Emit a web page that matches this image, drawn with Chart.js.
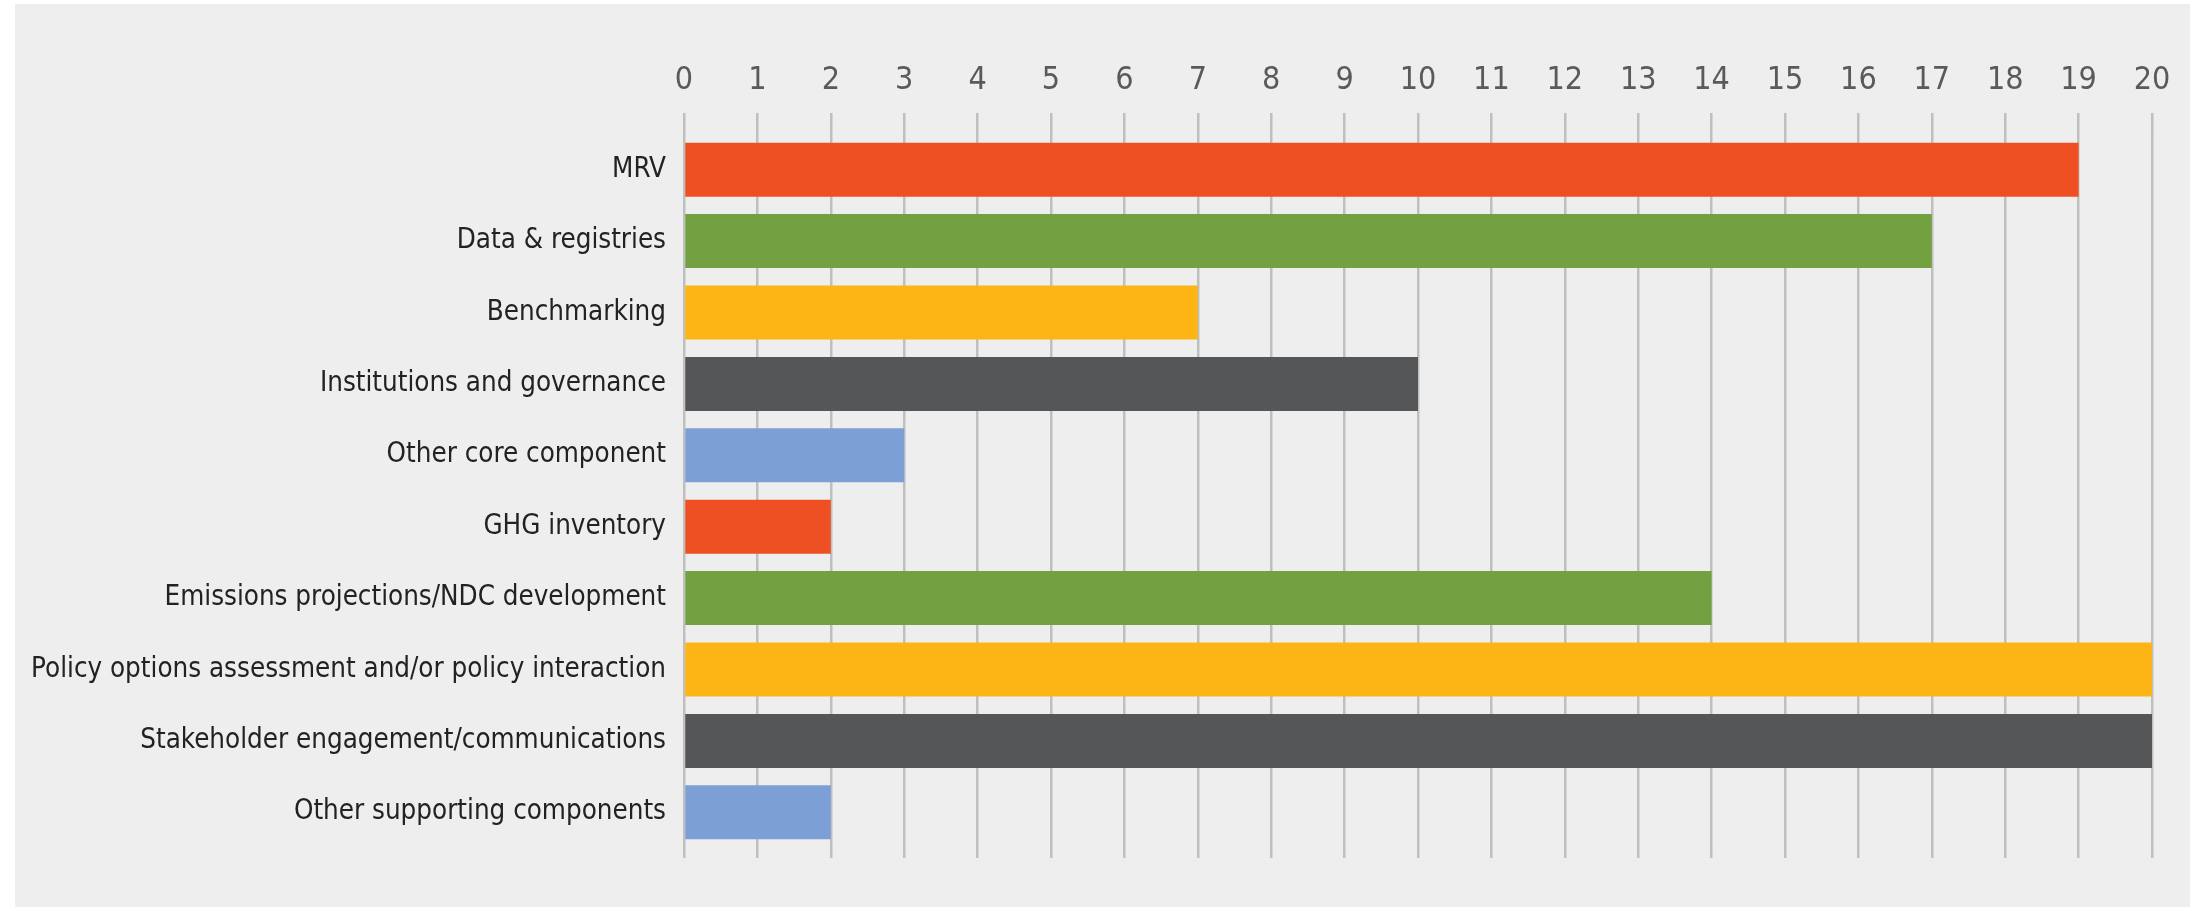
<!DOCTYPE html>
<html>
<head>
<meta charset="utf-8">
<script src="https://cdn.jsdelivr.net/npm/chart.js@4/dist/chart.umd.min.js"></script>
<style>
  html, body { margin: 0; padding: 0; background: #fff; }
  #panel {
    position: absolute; left: 15px; top: 4px; width: 2175px; height: 903px;
    background: #eeeeee;
  }
  #chart { position: absolute; left: 0; top: 0; }
</style>
</head>
<body>
<div id="panel"></div>
<canvas id="chart" width="2196" height="911"></canvas>
<script>
const categories = [
  'MRV',
  'Data & registries',
  'Benchmarking',
  'Institutions and governance',
  'Other core component',
  'GHG inventory',
  'Emissions projections/NDC development',
  'Policy options assessment and/or policy interaction',
  'Stakeholder engagement/communications',
  'Other supporting components'
];
const counts = [19, 17, 7, 10, 3, 2, 14, 20, 20, 2];
const barColors = [
  '#ee5023', '#73a041', '#fcb515', '#555658', '#7c9fd6',
  '#ee5023', '#73a041', '#fcb515', '#555658', '#7c9fd6'
];
const axisMin = 0;
const axisMax = 20;

// condensed face via the font shorthand (weight slot carries the stretch keyword)
const labelFont = "'DejaVu Sans', sans-serif";
const gridColor = '#bfbfbf';

new Chart(document.getElementById('chart'), {
  type: 'bar',
  data: {
    labels: categories,
    datasets: [{
      data: counts,
      backgroundColor: barColors,
      borderWidth: 0,
      barPercentage: 0.756,
      categoryPercentage: 1
    }]
  },
  options: {
    indexAxis: 'y',
    responsive: false,
    animation: false,
    layout: { padding: { left: 0, right: 44, top: 0, bottom: 0 } },
    plugins: {
      legend: { display: false },
      tooltip: { enabled: false }
    },
    scales: {
      x: {
        position: 'top',
        min: axisMin,
        max: axisMax,
        z: 1,
        afterFit: (scale) => { scale.height = 134; },
        ticks: {
          stepSize: 1,
          padding: 13,
          color: '#5a5a5a',
          font: { family: labelFont, size: 32, weight: 'condensed' }
        },
        grid: {
          color: gridColor,
          lineWidth: 2.5,
          drawTicks: true,
          tickLength: 21
        },
        border: { display: false }
      },
      x2: {
        type: 'linear',
        axis: 'x',
        position: 'bottom',
        min: axisMin,
        max: axisMax,
        z: 1,
        afterFit: (scale) => { scale.height = 63; },
        ticks: { stepSize: 1, display: false },
        grid: {
          color: gridColor,
          lineWidth: 2.5,
          drawOnChartArea: false,
          drawTicks: true,
          tickLength: 10
        },
        border: { display: false }
      },
      y: {
        afterFit: (scale) => { scale.width = 684; },
        ticks: {
          padding: 10,
          color: '#222222',
          font: { family: labelFont, size: 27.5, weight: 'condensed' }
        },
        grid: { display: false },
        border: { display: false }
      }
    }
  }
});
</script>
</body>
</html>
